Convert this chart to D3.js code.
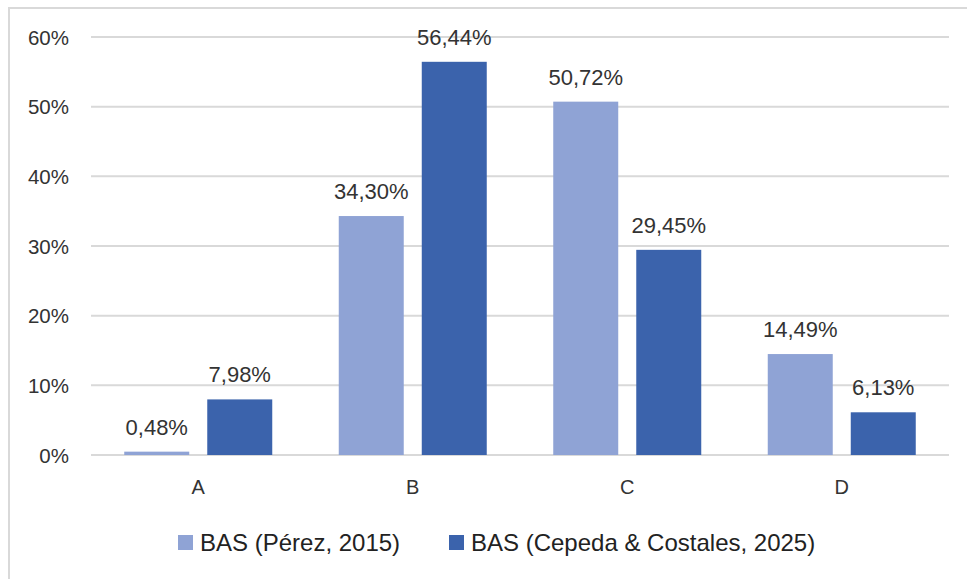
<!DOCTYPE html>
<html>
<head>
<meta charset="utf-8">
<script src="https://cdn.jsdelivr.net/npm/d3@7"></script>
<style>
  html, body { margin: 0; padding: 0; background: #fff; }
  svg { display: block; }
</style>
</head>
<body>
<svg id="chart" width="967" height="579"></svg>
<script>
const categories = ["A", "B", "C", "D"];
const seriesNames = ["BAS (Pérez, 2015)", "BAS (Cepeda & Costales, 2025)"];
const perez2015 = [0.48, 34.30, 50.72, 14.49];
const cepeda2025 = [7.98, 56.44, 29.45, 6.13];
const yTicks = [0, 10, 20, 30, 40, 50, 60];
const colors = ["#8FA3D5", "#3B63AC"];

(function () {
const seriesValues = [perez2015, cepeda2025];
const svg = d3.select("#chart");

// chart frame
svg.append("rect")
  .attr("x", 9).attr("y", 8).attr("width", 980).attr("height", 600)
  .attr("fill", "#fff").attr("stroke", "#D9D9D9").attr("stroke-width", 2);

const pLeft = 91, pRight = 949, pTop = 37, pBottom = 455;
const x0 = d3.scaleBand().domain(categories).range([pLeft, pRight]).padding(0);
const x1 = d3.scaleBand().domain(d3.range(seriesNames.length)).range([-74, 74])
  .paddingInner(0.217).paddingOuter(0);
const y = d3.scaleLinear().domain([0, 60]).range([pBottom, pTop]);

// gridlines
svg.append("g").selectAll("line").data(yTicks).join("line")
  .attr("x1", pLeft).attr("x2", pRight)
  .attr("y1", d => y(d)).attr("y2", d => y(d))
  .attr("stroke", "#D9D9D9").attr("stroke-width", 2);

// y axis labels
const yAxis = d3.axisLeft(y).tickValues(yTicks).tickSize(0).tickPadding(0)
  .tickFormat(d => d + "%");
const ya = svg.append("g").attr("transform", `translate(69,0)`).call(yAxis);
ya.select(".domain").remove();
ya.selectAll("text").attr("font-family", "Liberation Sans, Arial, sans-serif")
  .attr("font-size", 20.5).attr("fill", "#333333").attr("dy", "0.35em");

// x axis labels
const xAxis = d3.axisBottom(x0).tickSize(0).tickPadding(0);
const xa = svg.append("g").attr("transform", `translate(0,494)`).call(xAxis);
xa.select(".domain").remove();
xa.selectAll("text").attr("font-family", "Liberation Sans, Arial, sans-serif")
  .attr("font-size", 20).attr("fill", "#333333").attr("dy", 0).attr("y", 0);

// bars
const fmt = v => v.toFixed(2).replace(".", ",") + "%";
seriesValues.forEach((vals, si) => {
  const g = svg.append("g");
  g.selectAll("rect").data(vals).join("rect")
    .attr("x", (d, i) => x0(categories[i]) + x0.bandwidth() / 2 + x1(si))
    .attr("width", x1.bandwidth())
    .attr("y", d => y(d))
    .attr("height", d => y(0) - y(d))
    .attr("fill", colors[si]);
  g.selectAll("text").data(vals).join("text")
    .attr("x", (d, i) => x0(categories[i]) + x0.bandwidth() / 2 + x1(si) + x1.bandwidth() / 2)
    .attr("y", d => y(d) - 17)
    .attr("text-anchor", "middle")
    .attr("font-family", "Liberation Sans, Arial, sans-serif")
    .attr("font-size", 22).attr("fill", "#333333")
    .text(d => fmt(d));
});

// legend
const legendX = [178, 449];
const lg = svg.append("g");
seriesNames.forEach((name, si) => {
  lg.append("rect").attr("x", legendX[si]).attr("y", 535)
    .attr("width", 15).attr("height", 15).attr("fill", colors[si]);
  lg.append("text").attr("x", legendX[si] + 22).attr("y", 550.5)
    .attr("font-family", "Liberation Sans, Arial, sans-serif")
    .attr("font-size", 24).attr("fill", "#222222").text(name);
});
})();
</script>
</body>
</html>
